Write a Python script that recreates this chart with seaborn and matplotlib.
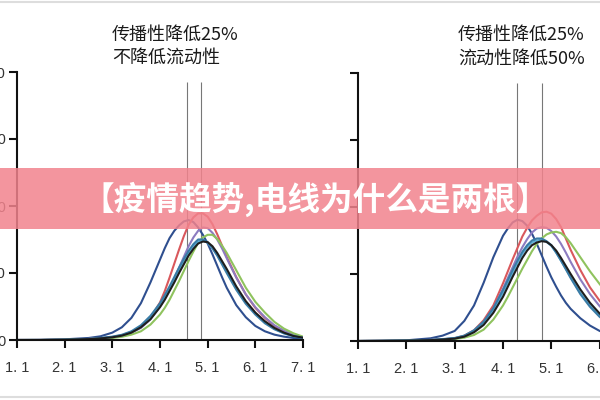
import numpy as np
import matplotlib
matplotlib.use("Agg")
import matplotlib.pyplot as plt
import pandas as pd
import seaborn as sns
from matplotlib.patches import Rectangle
from matplotlib.lines import Line2D

# x positions in months counted from 1.1 (Jan 1)
x = [0, 0.5, 1.0, 1.5, 1.75, 2.0, 2.2, 2.4, 2.6, 2.8, 3.0, 3.1, 3.2, 3.3, 3.4, 3.5, 3.6,
     3.7, 3.8, 3.9, 4.0, 4.1, 4.2, 4.3, 4.4, 4.6, 4.8, 5.0, 5.2, 5.4, 5.6, 5.8, 6.0]
x_labels = ["1. 1", "2. 1", "3. 1", "4. 1", "5. 1", "6. 1", "7. 1"]
y_ticks = [0, 1, 2, 3, 4]
y_labels = ["0", "1000", "2000", "3000", "4000"]

# left panel: transmission -25%, mobility unchanged
left_navy = [0.0, 0.003, 0.01, 0.03, 0.055, 0.11, 0.19, 0.33, 0.55, 0.86, 1.2, 1.37, 1.52,
             1.63, 1.71, 1.77, 1.79, 1.76, 1.68, 1.57, 1.44, 1.28, 1.11, 0.94, 0.78, 0.52,
             0.34, 0.21, 0.13, 0.08, 0.05, 0.03, 0.015]
left_red = [0.0, 0.0, 0.005, 0.015, 0.025, 0.045, 0.07, 0.12, 0.2, 0.33, 0.56, 0.73, 0.93,
            1.14, 1.35, 1.55, 1.72, 1.83, 1.89, 1.89, 1.84, 1.73, 1.58, 1.41, 1.24, 0.94,
            0.68, 0.48, 0.33, 0.21, 0.13, 0.07, 0.04]
left_purple = [0.0, 0.0, 0.005, 0.015, 0.025, 0.04, 0.065, 0.11, 0.18, 0.31, 0.5, 0.63, 0.77,
               0.92, 1.08, 1.24, 1.4, 1.53, 1.63, 1.68, 1.67, 1.6, 1.5, 1.37, 1.22, 0.93,
               0.68, 0.49, 0.34, 0.22, 0.14, 0.08, 0.04]
left_green = [0.0, 0.0, 0.003, 0.01, 0.018, 0.03, 0.048, 0.08, 0.13, 0.23, 0.38, 0.48, 0.6,
              0.74, 0.88, 1.03, 1.18, 1.32, 1.45, 1.53, 1.57, 1.57, 1.51, 1.41, 1.3, 1.04,
              0.78, 0.57, 0.41, 0.27, 0.17, 0.1, 0.05]
left_teal = [0.0, 0.0, 0.005, 0.015, 0.027, 0.045, 0.07, 0.12, 0.2, 0.33, 0.52, 0.64, 0.77,
             0.91, 1.05, 1.18, 1.3, 1.4, 1.47, 1.49, 1.45, 1.37, 1.27, 1.15, 1.02, 0.77,
             0.56, 0.4, 0.27, 0.17, 0.1, 0.06, 0.035]
left_steel = [0.0, 0.0, 0.005, 0.016, 0.03, 0.05, 0.078, 0.13, 0.22, 0.36, 0.55, 0.67, 0.8,
              0.94, 1.08, 1.21, 1.33, 1.43, 1.5, 1.5, 1.46, 1.37, 1.26, 1.13, 1.0, 0.75,
              0.54, 0.38, 0.25, 0.16, 0.1, 0.055, 0.03]
left_black = [0.0, 0.0, 0.004, 0.013, 0.024, 0.04, 0.065, 0.11, 0.19, 0.31, 0.49, 0.6, 0.73,
              0.86, 1.0, 1.13, 1.26, 1.36, 1.44, 1.47, 1.46, 1.4, 1.3, 1.18, 1.06, 0.8,
              0.58, 0.41, 0.28, 0.18, 0.11, 0.06, 0.035]

# right panel: transmission -25%, mobility -50%
right_navy = [0.0, 0.003, 0.01, 0.04, 0.08, 0.15, 0.3, 0.53, 0.87, 1.25, 1.57, 1.68, 1.77,
              1.81, 1.79, 1.72, 1.6, 1.45, 1.28, 1.11, 0.95, 0.81, 0.68, 0.57, 0.48, 0.34,
              0.23, 0.15, 0.1, 0.06, 0.04, 0.025, 0.015]
right_red = [0.0, 0.002, 0.006, 0.015, 0.025, 0.04, 0.08, 0.16, 0.31, 0.53, 0.86, 1.04, 1.22,
             1.39, 1.56, 1.69, 1.8, 1.87, 1.92, 1.93, 1.9, 1.82, 1.7, 1.53, 1.36, 1.06,
             0.8, 0.6, 0.44, 0.31, 0.21, 0.13, 0.07]
right_purple = [0.0, 0.002, 0.006, 0.015, 0.025, 0.04, 0.075, 0.15, 0.28, 0.48, 0.78, 0.94,
                1.1, 1.26, 1.4, 1.52, 1.62, 1.68, 1.7, 1.69, 1.64, 1.56, 1.45, 1.32, 1.18,
                0.92, 0.7, 0.52, 0.38, 0.27, 0.18, 0.11, 0.06]
right_green = [0.0, 0.001, 0.004, 0.01, 0.018, 0.03, 0.05, 0.09, 0.17, 0.32, 0.53, 0.66, 0.8,
               0.94, 1.08, 1.21, 1.34, 1.45, 1.53, 1.59, 1.62, 1.63, 1.61, 1.55, 1.46, 1.25,
               1.04, 0.85, 0.67, 0.5, 0.36, 0.24, 0.15]
right_teal = [0.0, 0.002, 0.006, 0.015, 0.025, 0.04, 0.07, 0.14, 0.26, 0.45, 0.72, 0.87, 1.02,
              1.17, 1.3, 1.4, 1.47, 1.5, 1.51, 1.48, 1.42, 1.32, 1.2, 1.08, 0.95, 0.72,
              0.53, 0.38, 0.27, 0.18, 0.12, 0.07, 0.04]
right_steel = [0.0, 0.002, 0.006, 0.016, 0.028, 0.045, 0.08, 0.16, 0.29, 0.49, 0.76, 0.91,
               1.06, 1.2, 1.33, 1.43, 1.5, 1.53, 1.53, 1.49, 1.43, 1.32, 1.2, 1.07, 0.94,
               0.7, 0.51, 0.36, 0.25, 0.17, 0.11, 0.065, 0.035]
right_black = [0.0, 0.002, 0.005, 0.013, 0.022, 0.035, 0.065, 0.13, 0.24, 0.42, 0.66, 0.81,
               0.96, 1.1, 1.24, 1.35, 1.43, 1.47, 1.49, 1.48, 1.43, 1.35, 1.24, 1.12, 1.0,
               0.77, 0.57, 0.41, 0.29, 0.2, 0.13, 0.08, 0.045]

left_vlines = [3.56, 3.85]
right_vlines = [3.28, 3.80]
vline_top = 3.85

left_title = ["传播性降低25%", "不降低流动性"]
right_title = ["传播性降低25%", "流动性降低50%"]
banner_text = "【疫情趋势,电线为什么是两根】"

names = ["navy", "red", "purple", "green", "teal", "steel", "black"]
palette = {"navy": "#2f4f8f", "red": "#d9585c", "purple": "#8c7cc0",
           "green": "#8fc35e", "teal": "#5cb0d8", "steel": "#3a7ca6",
           "black": "#1e1e1e"}


def long_df(series):
    rows = []
    for name, vals in zip(names, series):
        for xi, vi in zip(x, vals):
            rows.append({"x": xi, "v": vi, "curve": name})
    return pd.DataFrame(rows)


left_df = long_df([left_navy, left_red, left_purple, left_green,
                   left_teal, left_steel, left_black])
right_df = long_df([right_navy, right_red, right_purple, right_green,
                    right_teal, right_steel, right_black])

sns.set_style("white")
plt.rcParams["font.family"] = ["Noto Sans CJK SC", "DejaVu Sans"]

fig = plt.figure(figsize=(6, 4), dpi=100)
ax1 = fig.add_axes([17 / 600, 60 / 400, 286 / 600, 268 / 400])
ax2 = fig.add_axes([358 / 600, 59 / 400, 290 / 600, 268 / 400])

for ax, df, vl, labels in [(ax1, left_df, left_vlines, y_labels),
                           (ax2, right_df, right_vlines, [""] * 5)]:
    sns.lineplot(data=df, x="x", y="v", hue="curve", hue_order=names,
                 palette=palette, legend=False, lw=1.5, ax=ax)
    ax.vlines(vl, 0, vline_top, color="#777777", lw=0.8, zorder=1)
    ax.set_xlim(0, 6)
    ax.set_ylim(0, 4)
    ax.set_xticks(range(len(x_labels)))
    ax.set_xticklabels(x_labels, fontsize=10.5, color="#333333",
                       family=["Liberation Sans", "DejaVu Sans"])
    ax.set_yticks(y_ticks)
    ax.set_yticklabels(labels, fontsize=10.5, color="#333333",
                       family=["Liberation Sans", "DejaVu Sans"])
    ax.set_xlabel("")
    ax.set_ylabel("")
    for s in ["top", "right"]:
        ax.spines[s].set_visible(False)
    for s in ["left", "bottom"]:
        ax.spines[s].set_color("#111111")
        ax.spines[s].set_linewidth(1.5)
    ax.tick_params(axis="x", direction="out", length=6, width=1.5, pad=9,
                   colors="#111111", labelcolor="#333333", bottom=True)
    ax.tick_params(axis="y", direction="out", length=6, width=1.5, pad=2,
                   colors="#111111", labelcolor="#333333", left=True)
    ax.patch.set_alpha(0)

for i, line in enumerate(left_title):
    fig.text(112 / 600, 1 - (35 + 23 * i) / 400, line, fontsize=13, fontweight="medium",
             va="center", ha="left", color="#1a1a1a")
for i, line in enumerate(right_title):
    fig.text(458 / 600, 1 - (35 + 24 * i) / 400, line, fontsize=13, fontweight="medium",
             va="center", ha="left", color="#1a1a1a")

# pink banner across the middle
fig.add_artist(Rectangle((0, 1 - 229 / 400), 1, 61 / 400, transform=fig.transFigure,
                         facecolor="#f2838d", alpha=0.85, edgecolor="none", zorder=5))
fig.text(315 / 600, 1 - 199 / 400, banner_text, fontsize=23.5, fontweight="bold",
         color="white", ha="center", va="center", zorder=6)

# thin frame lines at top and bottom
fig.add_artist(Line2D([0, 1], [1 - 2 / 400, 1 - 2 / 400], color="#dddddd", lw=1.5))
fig.add_artist(Line2D([0, 1], [3.5 / 400, 3.5 / 400], color="#dddddd", lw=1.5))

fig.savefig("out.png", dpi=100)
